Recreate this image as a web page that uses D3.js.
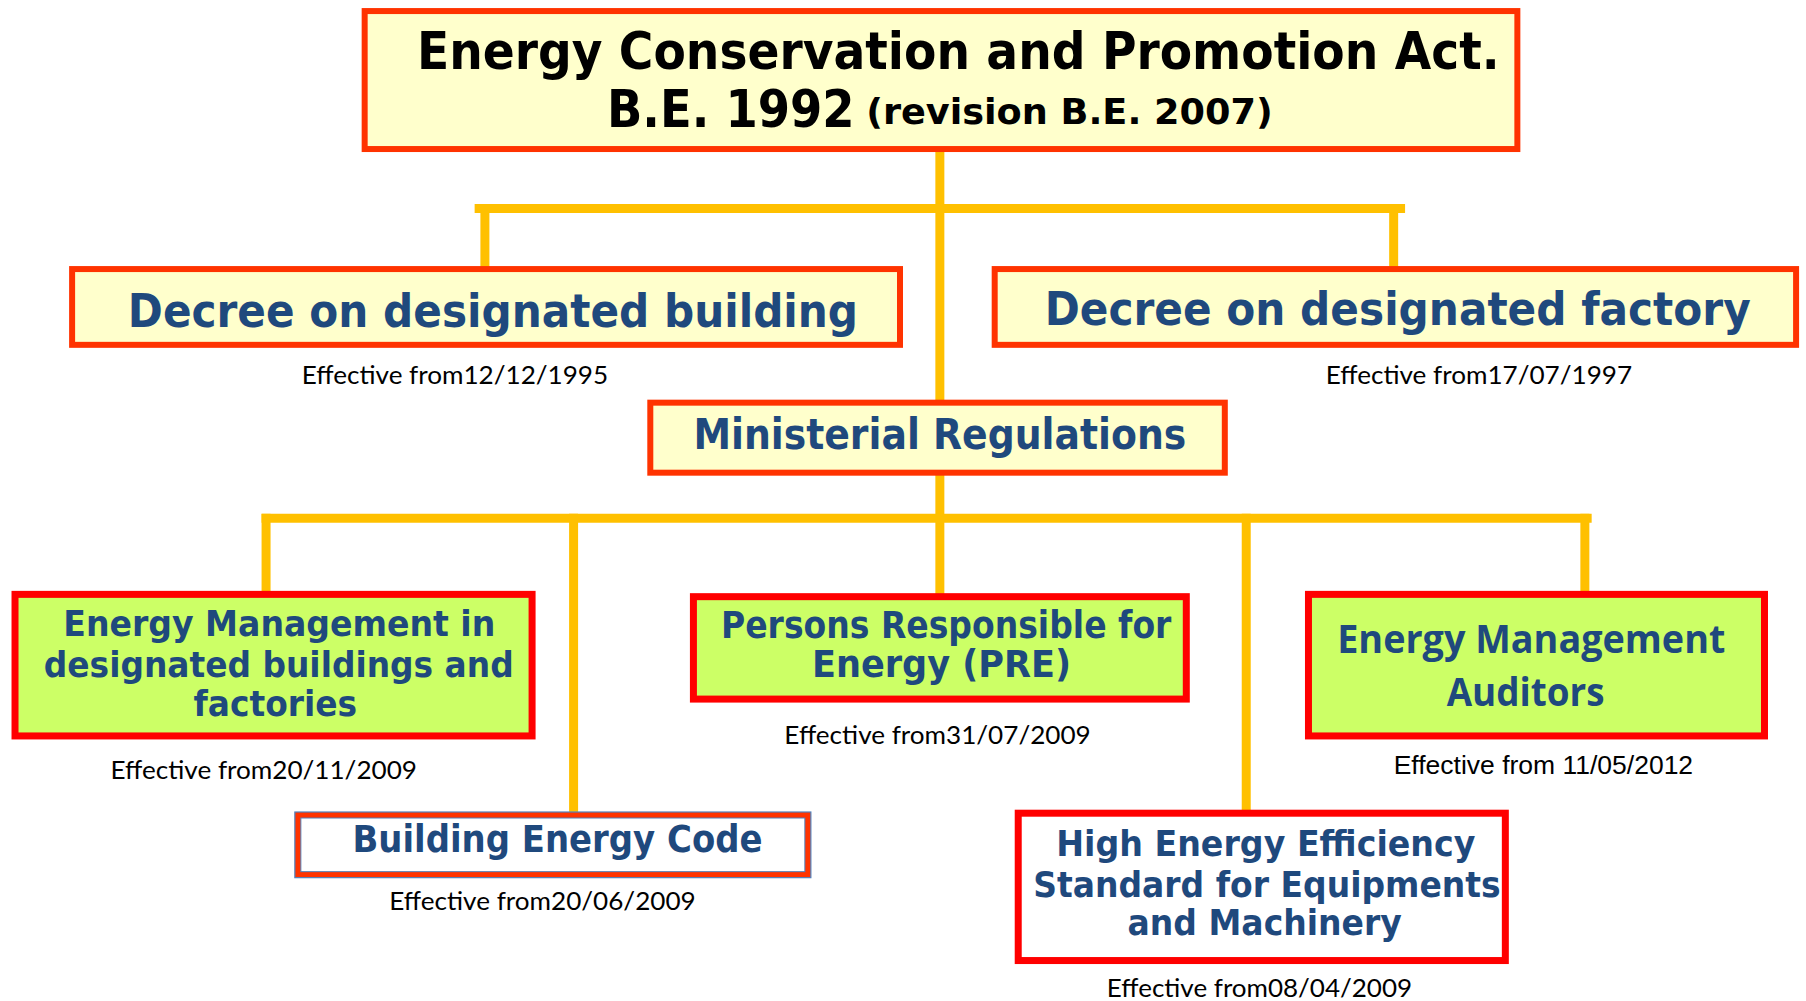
<!DOCTYPE html>
<html><head><meta charset="utf-8">
<script src="https://cdn.jsdelivr.net/npm/d3@7"></script>
<style>html,body{margin:0;padding:0;background:#fff;}svg{display:block;}</style>
</head><body>
<script>
// ---- content ----
const nodeIds = ["act","decreeBuilding","decreeFactory","ministerial","emDesignated","pre","auditors","bec","hee"];
const nodeLines = [
  ["Energy Conservation and Promotion Act."],
  ["Decree on designated building"],
  ["Decree on designated factory"],
  ["Ministerial Regulations"],
  ["Energy Management in","designated buildings and","factories"],
  ["Persons Responsible for","Energy  (PRE)"],
  ["Energy Management","Auditors"],
  ["Building  Energy Code"],
  ["High Energy Efficiency","Standard for Equipments","and Machinery"]
];
const actLine2 = ["B.E. 1992", "(revision B.E.  2007)"];
const effectiveDates = ["", "Effective from12/12/1995","Effective from17/07/1997","",
  "Effective from20/11/2009","Effective from31/07/2009","Effective from 11/05/2012",
  "Effective from20/06/2009","Effective from08/04/2009"];

// ---- layout (reference coordinates, 1568-wide space) ----
const boxes = [
  [314,7,1320,132],[60,231,784,302],[861,231,1562,302],[562,347,1066,413],
  [10,513,465,642],[599,515,1033,610],[1133,513,1535,642],[256,705,704,762],[881,703,1310,837]
];
const lineSpans = [ // [x0,x1,baseline]
  [[362,1302,60]],
  [[111,745,284]],
  [[907,1520,282]],
  [[602,1030,390]],
  [[55,430,552],[38,446,588],[168,310,622]],
  [[626,1017,554],[705,930,588]],
  [[1161,1498,567],[1256,1393,613]],
  [[306,662,740]],
  [[917,1281,743],[897,1303,779],[979,1217,812]]
];
const dateSpans = [null,[262,528,333],[1151,1417,333],null,[96,362,676],[681,947,646],[1210,1470,672],[338,604,790],[961,1226,866]];
const connectors = [
  [[816,132],[816,347]],
  [[416,181],[1216,181]],
  [[421,181],[421,231]],
  [[1210,181],[1210,231]],
  [[816,413],[816,513]],
  [[231,450],[1378,450]],
  [[231,450],[231,513]],
  [[498,450],[498,705]],
  [[1082,450],[1082,703]],
  [[1376,450],[1376,513]]
];
const styles = {
  cream:{fill:"#FFFFCC",stroke:"#FF3300",sw:6},
  green:{fill:"#CCFF66",stroke:"#FF0000",sw:7},
  white:{fill:"#FFFFFF",stroke:"#FF0000",sw:7},
  bec:{fill:"#FFFFFF",stroke:"#FF3300",sw:6}
};
const nodeStyle = ["cream","cream","cream","cream","green","green","green","bec","white"];

const W=1806,H=1001;
const s = d3.scaleLinear().domain([0,1568]).range([0,W]);

const svg = d3.select("body").append("svg").attr("width",W).attr("height",H);

// connectors
svg.append("g").selectAll("line").data(connectors).join("line")
  .attr("x1",d=>s(d[0][0])).attr("y1",d=>s(d[0][1]))
  .attr("x2",d=>s(d[1][0])).attr("y2",d=>s(d[1][1]))
  .attr("stroke","#FFC000").attr("stroke-width",9).attr("stroke-linecap","square");

// boxes
const g = svg.append("g");
boxes.forEach((b,i)=>{
  const st = styles[nodeStyle[i]];
  const h = st.sw/2;
  g.append("rect")
    .attr("x",s(b[0])+h).attr("y",s(b[1])+h)
    .attr("width",s(b[2])-s(b[0])-st.sw).attr("height",s(b[3])-s(b[1])-st.sw)
    .attr("fill",st.fill).attr("stroke",st.stroke).attr("stroke-width",st.sw);
  if(nodeStyle[i]==="bec"){
    g.append("rect").attr("x",s(b[0])).attr("y",s(b[1]))
      .attr("width",s(b[2])-s(b[0])).attr("height",s(b[3])-s(b[1]))
      .attr("fill","none").attr("stroke","#4F81BD").attr("stroke-width",1.2);
    g.append("rect").attr("x",s(b[0])+st.sw).attr("y",s(b[1])+st.sw)
      .attr("width",s(b[2])-s(b[0])-2*st.sw).attr("height",s(b[3])-s(b[1])-2*st.sw)
      .attr("fill","none").attr("stroke","#4F81BD").attr("stroke-width",1);
  }
});

function fitText(sel, txt, span, size, opts){
  const x0 = s(span[0]), x1 = s(span[1]);
  const end = x1 > W*0.8;
  return sel.append("text")
    .attr("x", end ? x1 : x0).attr("y",s(span[2]))
    .attr("text-anchor", end ? "end" : "start")
    .attr("textLength",x1-x0)
    .attr("lengthAdjust","spacingAndGlyphs")
    .attr("font-family",opts.family).attr("font-weight",opts.weight)
    .attr("font-size",size).attr("fill",opts.color).text(txt);
}

const tg = svg.append("g");
const blue = "#1F497D";
const cond = "DejaVu Sans Condensed, DejaVu Sans";
nodeLines.forEach((lines,i)=>{
  lines.forEach((ln,j)=>{
    let size, fam="DejaVu Sans", wt="bold", col=blue;
    if(i===0){size=52; col="#000"; fam=cond;}
    else if(i===1||i===2){size=47; fam=cond;}
    else if(i===3) size=42;
    else if(i===6){size=39; fam="Open Sans"; wt="bold";}
    else if(lines.length===3) size=35;
    else size=37;
    fitText(tg, ln, lineSpans[i][j], size, {family:fam,weight:wt,color:col});
  });
});
// act second line (mixed sizes)
fitText(tg, actLine2[0], [527,742,110], 52, {family:cond,weight:"bold",color:"#000"});
fitText(tg, actLine2[1], [752,1105,108], 36, {family:cond,weight:"bold",color:"#000"});

// effective dates
effectiveDates.forEach((t,i)=>{
  if(!t) return;
  const fam = i===6 ? "Liberation Sans" : "Lato";
  fitText(tg, t, dateSpans[i], 25, {family:fam,weight:"normal",color:"#000"});
});
</script>
</body></html>
